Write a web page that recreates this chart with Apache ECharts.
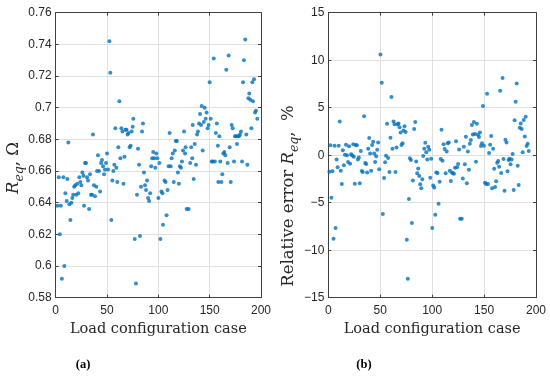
<!DOCTYPE html>
<html>
<head>
<meta charset="utf-8">
<script src="https://cdn.jsdelivr.net/npm/echarts@6/dist/echarts.min.js"></script>
<style>html,body{margin:0;padding:0;background:#fff;}#c{width:550px;height:389px;}</style>
</head>
<body>
<div id="c"></div>
<script>
// Panel (a): load configuration case vs R_eq (Ohm)
const caseA = [1.6,3,4,5,6,7.5,8.4,9.4,10.7,11.4,12.3,13.3,14.3,15.3,16.2,17,18,19,20,21,22,23,24,25,26,27,27.6,28.6,29.5,30.5,31.5,32.5,33.4,34.4,35.4,36.3,37.3,38.3,39.6,40.3,41.2,42.2,43.2,44.2,45.1,46.1,47.1,48,49,50,51,52.3,53.2,54.2,55.2,56.2,57.1,58.1,59.1,60,61,62,63,64,65,66,67,68,69,70,71,72,73,74,75,75.6,77,78.2,79.2,80.2,81.2,82.1,83.1,84.1,85,86,87,88,89,90,91,92,93,94,95,96,97,98,99,100,101,102,103,104,104.5,106,107,108,109,110,111,112,113,114,115,116,117,118,119,120,121,122,123,124,125,126,126.6,127.6,129.5,131,132,133,133.5,134.4,135.4,136.7,137.7,138.6,139.6,140.6,141.6,142.2,143.2,144.2,145.1,146.1,147,148,149,150,151,152,153,154,155,156,157,158,158.4,159.4,160.4,161.4,162.3,163.3,164.3,165.3,166.2,167.5,168.5,169.5,170.5,171.4,172.4,173.7,174.7,175.6,176.6,177.6,178.5,179.5,180.5,181.5,182.5,183.4,184.7,185.7,186.7,187.7,188.6,189.6,190.6,191.6,192.2,193.2,194.2,195.1,196.4];
const reqA = [0.638,0.656,0.620,0.638,0.592,0.656,0.600,0.646,0.641,0.655,0.678,0.639,0.629,0.640,0.643,0.645,0.650,0.651,0.645,0.652,0.646,0.656,0.653,0.651,0.659,0.657,0.638,0.665,0.665,0.656,0.654,0.636,0.658,0.645,0.645,0.683,0.651,0.644,0.650,0.660,0.670,0.660,0.647,0.665,0.667,0.663,0.658,0.661,0.665,0.671,0.661,0.742,0.722,0.629,0.654,0.660,0.664,0.687,0.662,0.653,0.675,0.704,0.668,0.687,0.685,0.652,0.669,0.686,0.686,0.683,0.684,0.675,0.676,0.685,0.688,0.693,0.617,0.589,0.645,0.674,0.664,0.619,0.650,0.685,0.690,0.659,0.651,0.648,0.654,0.643,0.641,0.646,0.663,0.668,0.672,0.668,0.662,0.671,0.668,0.643,0.665,0.617,0.647,0.646,0.626,0.654,0.653,0.632,0.648,0.663,0.684,0.663,0.668,0.671,0.653,0.673,0.679,0.679,0.659,0.652,0.663,0.662,0.666,0.673,0.685,0.671,0.675,0.636,0.636,0.665,0.675,0.668,0.689,0.655,0.677,0.664,0.683,0.685,0.690,0.696,0.689,0.701,0.673,0.691,0.700,0.693,0.697,0.687,0.689,0.716,0.693,0.666,0.666,0.731,0.666,0.684,0.690,0.676,0.653,0.682,0.666,0.653,0.658,0.671,0.672,0.670,0.724,0.665,0.733,0.675,0.653,0.689,0.687,0.666,0.682,0.682,0.677,0.682,0.682,0.683,0.685,0.666,0.716,0.730,0.743,0.683,0.664,0.706,0.709,0.705,0.687,0.716,0.704,0.718,0.697,0.698,0.693];

// Panel (b): load configuration case vs relative error of R_eq (%)
const caseB = [1,2,3,4,5,6,7,8,9,10,11,12,13,14,15,16,17,18,19,20,21,22,23,24,24.6,25.5,26.5,27.5,28.5,29.4,30.3,31.3,32.3,33.2,34.5,35.5,36.5,37.4,38.4,39.4,40.3,41.3,42.2,43.2,44.2,45.1,46.1,47.1,48,49,50.2,51.5,52.5,53.7,54.7,55.6,56.6,57.6,58.9,59.9,60.8,61.8,62.8,63.8,64.7,65.7,66.7,67.6,68.6,69.6,70.5,71.5,72.5,73.4,74.4,75.6,76.6,77.6,78.6,79.5,80.5,81.5,82.7,83.7,84.7,85.6,86.6,87.6,88.5,89.5,90.5,91.4,92.4,93.4,94.3,95.3,96.2,97.2,98.2,99.1,100.1,101,102,103,104,105.2,106.2,107.2,108.2,109,110,111,112,113,114,115,116,117,118,119,120,121,122,123,124,125,126,126.9,128.5,129.5,130.5,131.5,132.5,133.4,134.4,135.4,136.3,137.3,138.3,139.2,140.2,141.2,142.2,143.1,144.1,145.1,146,147,148,148.9,149.9,150.9,151.9,152.9,153.8,154.8,155.8,156.8,157.7,158.7,159.7,160.6,161.6,162.6,163.6,164.5,165.5,166.5,167.8,168.7,169.7,170.6,171.6,172.6,173.6,174.5,175.5,176.5,177.5,178.5,179.4,180.4,181.4,182.4,183.3,184.3,185.3,186.2,187.2,188.2,189.2,190.1,191,192,193];
const errB = [-1.74,1.04,-4.47,-1.7,-8.79,1.0,-7.67,-0.44,-1.28,1.0,3.56,-1.63,-3.04,0.51,-1.07,0.05,1.1,0.0,-0.72,0.93,-0.89,0.09,-0.02,1.14,-0.16,-3.0,1.07,1.04,-0.44,-0.23,-2.96,0.44,-1.67,-1.77,4.09,-0.82,-0.93,-1.81,0.68,1.81,0.19,-1.63,1.07,1.42,0.19,-0.72,-0.12,0.58,1.35,-1.49,10.61,7.63,-6.19,-2.4,-0.75,-0.05,3.32,-0.3,-1.77,1.84,6.12,0.68,3.56,3.25,-1.77,0.82,3.25,3.35,2.93,2.4,1.07,1.25,2.61,3.04,2.44,-8.89,-13.0,-4.61,-0.33,-0.51,-7.14,-2.65,2.75,3.49,-0.65,-1.91,-1.39,-2.19,-3.07,-3.49,-2.54,-0.09,0.68,1.32,0.3,-0.44,0.89,0.58,-2.37,-0.37,-7.67,-3.18,-3.39,-6.26,-1.81,-1.88,-5.11,-2.79,-0.4,2.68,-0.58,1.14,0.65,-1.91,0.4,1.25,1.35,-1.63,-2.72,-1.81,-1.91,-1.95,-1.32,1.46,-1.28,-0.93,0.61,-6.68,-6.68,-2.44,0.89,-0.96,1.95,-2.96,0.4,-1.53,1.21,1.6,3.18,2.19,3.49,2.23,-0.68,3.32,2.16,1.91,2.4,0.96,1.25,5.18,1.0,-2.89,-3.04,6.47,-3.04,0.23,1.1,2.02,-3.49,0.68,-1.42,-3.35,-2.75,-0.79,-0.61,-1.21,6.79,-1.88,8.12,-0.4,-3.74,1.63,1.35,-1.7,-0.51,-0.37,-0.96,-0.44,0.12,-3.67,3.67,5.63,7.56,-1.1,-3.14,2.89,3.35,2.75,0.3,3.7,1.98,4.05,0.96,1.21,0.44];

const xTitle = 'Load configuration case';
const panelLabels = ['(a)', '(b)'];

const AX = '#404040', GRID = '#e0e0e0', TXT = '#262626', DOT = '#0072BD';
const serif = 'DejaVu Serif';
const sans = 'Liberation Sans';
const minus = v => String(v).replace('-', '\u2212');

function xMain(gi) {
  return {
    type: 'value', gridIndex: gi, min: 0, max: 200, interval: 50, position: 'bottom',
    axisLine: {show: true, onZero: false, lineStyle: {color: AX, width: 1}},
    axisTick: {show: true, inside: true, length: 3, lineStyle: {color: AX}},
    axisLabel: {color: TXT, fontFamily: sans, fontSize: 12, margin: 7},
    splitLine: {show: true, lineStyle: {color: GRID, width: 1}},
    name: xTitle, nameLocation: 'middle', nameGap: 23,
    nameTextStyle: {fontFamily: serif, fontSize: 14.5, color: TXT}
  };
}
function xTop(gi) {
  return {
    type: 'value', gridIndex: gi, min: 0, max: 200, interval: 50, position: 'top',
    axisLine: {show: true, onZero: false, lineStyle: {color: AX, width: 1}},
    axisTick: {show: true, inside: true, length: 3, lineStyle: {color: AX}},
    axisLabel: {show: false}, splitLine: {show: false}
  };
}
function yMain(gi, min, max, interval) {
  return {
    type: 'value', gridIndex: gi, min: min, max: max, interval: interval, position: 'left',
    axisLine: {show: true, onZero: false, lineStyle: {color: AX, width: 1}},
    axisTick: {show: true, inside: true, length: 3, lineStyle: {color: AX}},
    axisLabel: {color: TXT, fontFamily: sans, fontSize: 12, margin: 4, formatter: minus},
    splitLine: {show: true, lineStyle: {color: GRID, width: 1}}
  };
}
function yRight(gi, min, max, interval) {
  return {
    type: 'value', gridIndex: gi, min: min, max: max, interval: interval, position: 'right',
    axisLine: {show: true, onZero: false, lineStyle: {color: AX, width: 1}},
    axisTick: {show: true, inside: true, length: 3, lineStyle: {color: AX}},
    axisLabel: {show: false}, splitLine: {show: false}
  };
}

const richY = {
  r: {fontFamily: serif, fontStyle: 'italic', fontSize: 16.5, fill: TXT, lineHeight: 24, verticalAlign: 'middle'},
  s: {fontFamily: serif, fontStyle: 'italic', fontSize: 12.5, fill: TXT, lineHeight: 24, verticalAlign: 'bottom'},
  n: {fontFamily: serif, fontSize: 16.5, fill: TXT, lineHeight: 24, verticalAlign: 'middle'}
};

const chart = echarts.init(document.getElementById('c'), null, {renderer: 'canvas'});
chart.setOption({
  animation: false,
  backgroundColor: '#fff',
  grid: [
    {left: 55.7, top: 12.7, width: 205.3, height: 285},
    {left: 328.3, top: 12.7, width: 207.7, height: 285}
  ],
  xAxis: [xMain(0), xTop(0), xMain(1), xTop(1)],
  yAxis: [yMain(0, 0.58, 0.76, 0.02), yRight(0, 0.58, 0.76, 0.02), yMain(1, -15, 15, 5), yRight(1, -15, 15, 5)],
  series: [
    {type: 'scatter', xAxisIndex: 0, yAxisIndex: 0, symbolSize: 4, itemStyle: {color: DOT},
     data: caseA.map((x, i) => [x, reqA[i]])},
    {type: 'scatter', xAxisIndex: 2, yAxisIndex: 2, symbolSize: 4, itemStyle: {color: DOT},
     data: caseB.map((x, i) => [x, errB[i]])}
  ],
  graphic: [
    {type: 'text', x: 14, y: 168, rotation: Math.PI / 2,
     style: {text: '{r|R}{s|eq}{n|, \u03A9}', rich: richY, align: 'center', verticalAlign: 'middle'}},
    {type: 'text', x: 289, y: 196, rotation: Math.PI / 2,
     style: {text: '{n|Relative error }{r|R}{s|eq}{n|,  %}', rich: richY, align: 'center', verticalAlign: 'middle'}},
    {type: 'text', x: 83, y: 365,
     style: {text: panelLabels[0], font: 'bold 12.5px "Liberation Serif"', fill: '#000', align: 'center', verticalAlign: 'middle'}},
    {type: 'text', x: 364, y: 365,
     style: {text: panelLabels[1], font: 'bold 12.5px "Liberation Serif"', fill: '#000', align: 'center', verticalAlign: 'middle'}}
  ]
});
</script>
</body>
</html>
